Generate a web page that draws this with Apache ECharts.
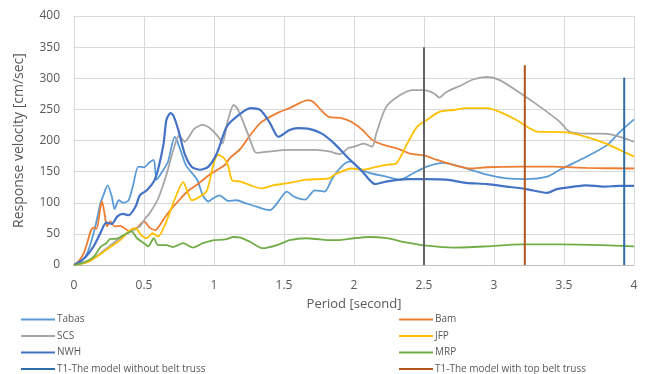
<!DOCTYPE html>
<html>
<head>
<meta charset="utf-8">
<script src="https://cdn.jsdelivr.net/npm/echarts@6/dist/echarts.min.js"></script>
<style>
  html, body {margin: 0; padding: 0; background: #fff;}
  #chart {width: 646px; height: 374px;}
</style>
</head>
<body>
<div id="chart"></div>
<script>
// [period (s), response velocity (cm/sec)]
const tabas = [[0,0],[0.05,5],[0.1,22],[0.15,60],[0.19,100],[0.21,112],[0.24,128],[0.27,110],[0.29,90],[0.32,104],[0.35,100],[0.39,104],[0.42,126],[0.46,158],[0.5,157],[0.54,165],[0.57,169],[0.59,137],[0.63,150],[0.67,165],[0.72,206],[0.76,185],[0.8,160],[0.88,137],[0.92,112],[0.96,102],[1.0,108],[1.04,112],[1.1,103],[1.16,104],[1.23,99],[1.3,94],[1.4,88],[1.45,99],[1.52,118],[1.57,110],[1.65,105],[1.72,120],[1.79,118],[1.84,137],[1.89,153],[1.94,164],[1.98,166],[2.04,155],[2.11,148],[2.23,142],[2.33,137],[2.42,147],[2.52,158],[2.64,164],[2.76,158],[2.95,145],[3.09,139],[3.23,138],[3.38,142],[3.47,153],[3.66,174],[3.81,193],[3.9,214],[4.0,234]]
const bam = [[0,0],[0.04,8],[0.07,19],[0.1,40],[0.12,55],[0.14,60],[0.16,58],[0.19,94],[0.2,102],[0.22,80],[0.235,62],[0.26,70],[0.29,62],[0.33,63],[0.4,54],[0.45,60],[0.5,70],[0.54,60],[0.58,56],[0.63,70],[0.67,83],[0.75,104],[0.82,120],[0.89,131],[0.98,147],[1.08,161],[1.11,171],[1.19,187],[1.26,209],[1.33,228],[1.4,238],[1.47,246],[1.54,252],[1.61,260],[1.67,265],[1.71,262],[1.76,250],[1.82,238],[1.91,236],[1.98,230],[2.06,217],[2.13,201],[2.21,193],[2.31,187],[2.4,179],[2.5,176],[2.59,169],[2.69,162],[2.83,155],[2.95,157],[3.19,158],[3.42,158],[3.66,156],[4.0,155]]
const scs = [[0,0],[0.1,5],[0.19,19],[0.28,35],[0.38,51],[0.47,62],[0.51,75],[0.54,83],[0.6,106],[0.66,145],[0.71,185],[0.75,208],[0.79,198],[0.86,219],[0.92,225],[0.98,218],[1.04,203],[1.06,195],[1.1,233],[1.14,257],[1.17,250],[1.25,206],[1.29,182],[1.31,180],[1.38,182],[1.54,185],[1.73,185],[1.83,182],[1.9,178],[1.96,188],[2.0,190],[2.07,195],[2.13,190],[2.16,212],[2.23,254],[2.33,273],[2.42,281],[2.5,281],[2.57,276],[2.61,269],[2.66,278],[2.76,288],[2.85,298],[2.95,302],[3.04,297],[3.19,276],[3.33,254],[3.47,230],[3.54,214],[3.66,211],[3.76,211],[3.85,209],[4.0,198]]
const jfp = [[0,0],[0.1,5],[0.16,13],[0.26,29],[0.33,40],[0.4,56],[0.44,59],[0.48,48],[0.52,43],[0.56,51],[0.6,46],[0.66,70],[0.72,106],[0.78,133],[0.81,118],[0.84,104],[0.9,110],[0.95,120],[1.0,165],[1.03,177],[1.07,172],[1.1,160],[1.13,136],[1.19,134],[1.26,128],[1.34,123],[1.42,128],[1.52,131],[1.66,137],[1.82,139],[1.86,145],[1.91,150],[1.98,155],[2.06,153],[2.11,155],[2.23,161],[2.3,163],[2.38,195],[2.45,222],[2.52,233],[2.61,246],[2.71,249],[2.8,252],[2.95,252],[3.04,246],[3.16,233],[3.26,219],[3.32,214],[3.42,214],[3.52,213],[3.66,206],[3.8,195],[4.0,174]]
const nwh = [[0,0],[0.07,10],[0.14,30],[0.19,52],[0.23,68],[0.27,66],[0.31,78],[0.35,82],[0.39,80],[0.44,94],[0.47,112],[0.52,120],[0.57,134],[0.6,153],[0.64,195],[0.66,233],[0.69,244],[0.71,240],[0.745,217],[0.79,179],[0.84,158],[0.9,153],[0.96,158],[1.02,179],[1.09,222],[1.16,238],[1.26,252],[1.33,249],[1.4,228],[1.46,206],[1.54,217],[1.6,220],[1.67,219],[1.77,211],[1.86,195],[1.95,174],[2.06,150],[2.15,130],[2.23,134],[2.38,138],[2.52,138],[2.66,137],[2.8,132],[2.95,130],[3.09,126],[3.23,122],[3.38,116],[3.45,122],[3.57,126],[3.66,128],[3.78,126],[3.9,127],[4.0,127]]
const mrp = [[0,0],[0.07,4],[0.14,13],[0.19,29],[0.23,35],[0.26,42],[0.3,42],[0.34,46],[0.38,51],[0.41,54],[0.45,43],[0.5,35],[0.53,30],[0.57,43],[0.6,32],[0.66,32],[0.71,29],[0.78,35],[0.85,28],[0.92,35],[1.0,40],[1.08,41],[1.14,45],[1.19,44],[1.26,37],[1.35,27],[1.45,32],[1.54,40],[1.66,43],[1.76,41],[1.83,40],[1.9,40],[2.0,43],[2.11,45],[2.23,43],[2.38,36],[2.52,31],[2.71,28],[2.95,30],[3.19,33],[3.47,33],[3.76,32],[4.0,30]]
// T1 markers: [period, top of line]
const t1Marks = [2.5, 350]
const t1WithoutBelt = [3.93, 301]
const t1WithTopBelt = [3.22, 321]

const chart = echarts.init(document.getElementById('chart'))
const font = 'Open Sans'
const txt = '#595959'

const curve = (name, data, color, width) => ({
  name, data, type: 'line', showSymbol: false, smooth: 0.25,
  lineStyle: {color, width}, itemStyle: {color}, z: 3
})
const marker = (name, m, color) => ({
  name, type: 'line', showSymbol: false,
  data: [[m[0], 0], [m[0], m[1]]],
  lineStyle: {color, width: 2}, itemStyle: {color}, z: 4
})

const legendBase = {
  orient: 'vertical', top: 314, height: 62, padding: 0, itemWidth: 34, itemHeight: 2, itemGap: 5.5,
  icon: 'rect', textStyle: {color: txt, fontSize: 10, fontFamily: font, lineHeight: 11, padding: [0, 0, 0, -3]}
}

chart.setOption({
  animation: false,
  textStyle: {fontFamily: font},
  grid: {left: 74, right: 12, top: 16, bottom: 109},
  legend: [
    {...legendBase, left: 21, data: ['Tabas', 'SCS', 'NWH', 'T1-The model without belt truss']},
    {...legendBase, left: 399, data: ['Bam', 'JFP', 'MRP', 'T1-The model with top belt truss']}
  ],
  xAxis: {
    type: 'value', min: 0, max: 4, interval: 0.5,
    name: 'Period [second]', nameLocation: 'middle', nameGap: 33,
    nameTextStyle: {color: txt, fontSize: 13},
    axisLine: {show: true, lineStyle: {color: '#BFBFBF'}},
    axisTick: {show: false},
    axisLabel: {color: txt, fontSize: 12, margin: 15},
    splitLine: {show: true, lineStyle: {color: '#D9D9D9'}}
  },
  yAxis: {
    type: 'value', min: 0, max: 400, interval: 50,
    name: 'Response velocity [cm/sec]', nameLocation: 'middle', nameGap: 48,
    nameTextStyle: {color: txt, fontSize: 14},
    axisLine: {show: false}, axisTick: {show: false},
    axisLabel: {color: txt, fontSize: 12, margin: 14},
    splitLine: {lineStyle: {color: '#D9D9D9'}}
  },
  series: [
    curve('Tabas', tabas, '#5B9BD5', 1.8),
    curve('Bam', bam, '#ED7D31', 1.8),
    curve('SCS', scs, '#A5A5A5', 1.8),
    curve('JFP', jfp, '#FFC000', 1.8),
    curve('NWH', nwh, '#4472C4', 2.2),
    curve('MRP', mrp, '#70AD47', 1.8),
    marker('T1-The model without belt truss', t1WithoutBelt, '#2E6DA8'),
    marker('T1-The model with top belt truss', t1WithTopBelt, '#B2541A'),
    marker('T1', t1Marks, '#636363')
  ]
})
</script>
</body>
</html>
